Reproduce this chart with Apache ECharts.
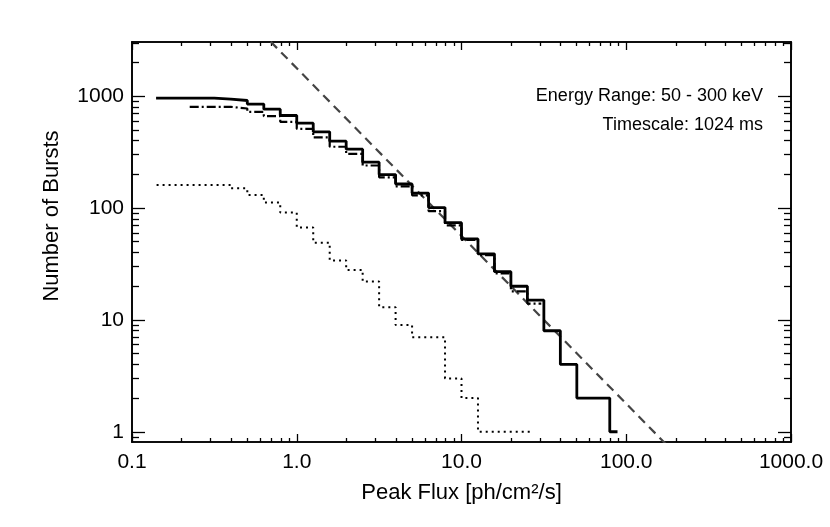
<!DOCTYPE html>
<html><head><meta charset="utf-8">
<script src="https://cdn.jsdelivr.net/npm/echarts@6/dist/echarts.min.js"></script>
<style>html,body{margin:0;padding:0;background:#fff}#c{width:830px;height:527px}</style>
</head><body><div id="c"></div>
<script>
// ---- data ----
const solidEdges = [0.14, 0.316, 0.398, 0.501, 0.631, 0.794, 1.0, 1.259, 1.585, 1.995, 2.512, 3.162, 3.981, 5.012, 6.310, 7.943, 10.0, 12.59, 15.85, 19.95, 25.12, 31.62, 39.81, 50.12, 79.43, 88.5];
const solidCounts = [960, 940, 915, 850, 765, 672, 574, 480, 396, 336, 257, 199, 164, 136, 101, 74, 53, 39, 27, 20, 15, 8, 4, 2, 1];

const dashDotEdges = [0.224, 0.398, 0.501, 0.631, 0.794, 1.0, 1.259, 1.585, 1.995, 2.512, 3.162, 3.981, 5.012, 6.310, 7.943, 10.0, 12.59, 15.85, 19.95, 25.12, 30.5];
const dashDotCounts = [803, 776, 724, 663, 590, 511, 428, 353, 305, 240, 188, 156, 130, 94, 70, 52, 38, 26, 18, 14];

const dottedEdges = [0.141, 0.398, 0.501, 0.631, 0.794, 1.0, 1.259, 1.585, 1.995, 2.512, 3.162, 3.981, 5.012, 7.943, 10.0, 12.59, 26.7];
const dottedCounts = [161, 150, 131, 112, 91, 67, 49, 34, 28, 22, 13, 9, 7, 3, 2, 1];

const powerLawFlux = [0.6, 200];
const powerLawCounts = [3825, 0.63];

const xTickValues = [0.1, 1, 10, 100, 1000];
const xTickLabels = ['0.1', '1.0', '10.0', '100.0', '1000.0'];
const xMinorValues = [0.2,0.3,0.4,0.5,0.6,0.7,0.8,0.9, 2,3,4,5,6,7,8,9, 20,30,40,50,60,70,80,90, 200,300,400,500,600,700,800,900];
const yTickValues = [1, 10, 100, 1000];
const yTickLabels = ['1', '10', '100', '1000'];
const yMinorValues = [0.9, 2,3,4,5,6,7,8,9, 20,30,40,50,60,70,80,90, 200,300,400,500,600,700,800,900, 2000,3000];

const annotationLines = ['Energy Range: 50 - 300 keV', 'Timescale: 1024 ms'];
const xTitle = 'Peak Flux [ph/cm²/s]';
const yTitle = 'Number of Bursts';

// ---- chart ----
const FONT = '"Liberation Sans", Helvetica, Arial, sans-serif';
const X_MIN = 0.1, X_MAX = 1000, Y_MIN = 0.81, Y_MAX = 3050;

function stepData(edges, vals) {
  const d = vals.map((v, i) => [edges[i], v]);
  d.push([edges[edges.length - 1], vals[vals.length - 1]]);
  return d;
}
function labelFor(values, labels) {
  return function (v) {
    for (let i = 0; i < values.length; i++) {
      if (Math.abs(Math.log10(v) - Math.log10(values[i])) < 1e-6) return labels[i];
    }
    return '';
  };
}
function axis(dim, pos, tickVals, len, opts) {
  const isX = dim === 'x';
  const a = {
    type: 'log', logBase: 10,
    min: isX ? X_MIN : Y_MIN, max: isX ? X_MAX : Y_MAX,
    position: pos,
    axisLine: { show: true, onZero: false, lineStyle: { color: '#000', width: 1.6 } },
    axisTick: { show: true, inside: true, length: len, customValues: tickVals, lineStyle: { color: '#000', width: 1.3 } },
    axisLabel: { show: false },
    splitLine: { show: false },
    minorTick: { show: false },
    minorSplitLine: { show: false }
  };
  return Object.assign(a, opts || {});
}

const chart = echarts.init(document.getElementById('c'), null, { renderer: 'canvas' });
chart.setOption({
  animation: false,
  backgroundColor: '#fff',
  grid: { left: 132, right: 39, top: 42, bottom: 85, containLabel: false },
  xAxis: [
    axis('x', 'bottom', xTickValues, 8, {
      axisLabel: { show: true, customValues: xTickValues, formatter: labelFor(xTickValues, xTickLabels),
        margin: 10, color: '#000', fontSize: 21, fontFamily: FONT },
      name: xTitle, nameLocation: 'middle', nameGap: 40,
      nameTextStyle: { color: '#000', fontSize: 22, fontFamily: FONT }
    }),
    axis('x', 'bottom', xMinorValues, 4),
    axis('x', 'top', xTickValues, 8),
    axis('x', 'top', xMinorValues, 4)
  ],
  yAxis: [
    axis('y', 'left', yTickValues, 13, {
      axisLabel: { show: true, customValues: yTickValues, formatter: labelFor(yTickValues, yTickLabels),
        margin: 8, color: '#000', fontSize: 21, fontFamily: FONT },
      name: yTitle, nameLocation: 'middle', nameGap: 69, nameRotate: 90,
      nameTextStyle: { color: '#000', fontSize: 22, fontFamily: FONT, padding: [0, 0, 0, 52] }
    }),
    axis('y', 'left', yMinorValues, 7),
    axis('y', 'right', yTickValues, 13),
    axis('y', 'right', yMinorValues, 7)
  ],
  series: [
    { type: 'line', name: 'power law', data: powerLawFlux.map((x, i) => [x, powerLawCounts[i]]),
      showSymbol: false, symbol: 'none', clip: true,
      lineStyle: { color: '#444', width: 2.2, type: [9, 6] } },
    { type: 'line', name: 'dotted', step: 'end', data: stepData(dottedEdges, dottedCounts),
      showSymbol: false, symbol: 'none', clip: true,
      lineStyle: { color: '#000', width: 2, type: [2, 4] } },
    { type: 'line', name: 'dash-dot', step: 'end', data: stepData(dashDotEdges, dashDotCounts),
      showSymbol: false, symbol: 'none', clip: true,
      lineStyle: { color: '#000', width: 2.2, type: [9, 3, 2, 3] } },
    { type: 'line', name: 'solid', step: 'end', data: stepData(solidEdges, solidCounts),
      showSymbol: false, symbol: 'none', clip: true,
      lineStyle: { color: '#000', width: 2.8 } }
  ],
  graphic: [
    { type: 'text', right: 67, top: 87, style: { text: annotationLines[0], fill: '#000', font: '18px ' + FONT } },
    { type: 'text', right: 67, top: 116, style: { text: annotationLines[1], fill: '#000', font: '18px ' + FONT } }
  ]
});
</script>
</body></html>
